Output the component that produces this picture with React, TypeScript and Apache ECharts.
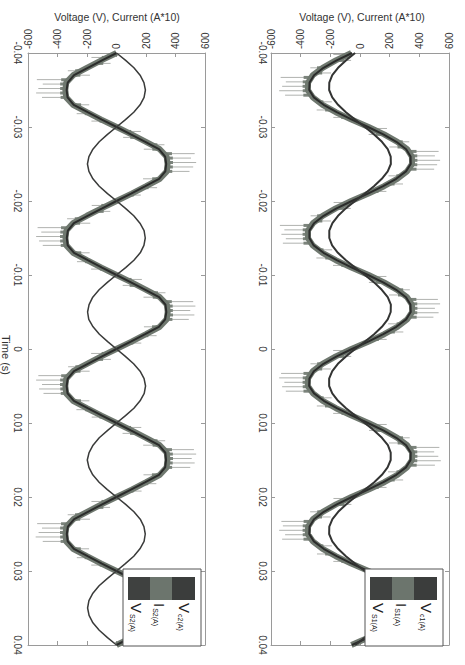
import React, { useEffect, useRef } from "react";
import * as echarts from "echarts";

// sample times in milliseconds
const TIME_MS = [
  -40, -39, -38, -37, -36, -35, -34, -33, -32, -31,
  -30, -29, -28, -27, -26, -25, -24, -23, -22, -21,
  -20, -19, -18, -17, -16, -15, -14, -13, -12, -11,
  -10, -9, -8, -7, -6, -5, -4, -3, -2, -1,
  0, 1, 2, 3, 4, 5, 6, 7, 8, 9,
  10, 11, 12, 13, 14, 15, 16, 17, 18, 19,
  20, 21, 22, 23, 24, 25, 26, 27, 28, 29,
  30, 31, 32, 33, 34, 35, 36, 37, 38, 39,
  40,
];

const VOLT_TICKS = [-600, -400, -200, 0, 200, 400, 600];
const TIME_TICKS = [-0.04, -0.03, -0.02, -0.01, 0, 0.01, 0.02, 0.03, 0.04];

// ---------- left panel (converter 2) ----------
const LEFT_VC2 = [
  0, -98, -195, -288, -331, -338, -332, -290, -196, -99,
  1, 97, 195, 288, 330, 337, 331, 289, 196, 99,
  0, -97, -196, -289, -330, -337, -331, -288, -195, -98,
  0, 98, 196, 289, 332, 338, 330, 287, 194, 97,
  -1, -98, -195, -288, -331, -338, -332, -289, -196, -98,
  0, 97, 195, 288, 331, 336, 330, 288, 196, 98,
  0, -97, -194, -287, -330, -337, -331, -289, -196, -99,
  0, 98, 196, 289, 331, 338, 331, 289, 195, 97,
  0,
];
const LEFT_IS2 = [
  0, 62, 118, 160, 186, 196, 187, 160, 117, 61,
  0, -61, -117, -160, -187, -197, -187, -160, -117, -61,
  1, 61, 117, 159, 187, 195, 186, 161, 118, 62,
  -1, -62, -118, -161, -186, -196, -188, -159, -116, -60,
  0, 60, 116, 160, 187, 197, 188, 160, 118, 61,
  0, -60, -117, -159, -186, -198, -187, -161, -118, -62,
  0, 62, 118, 161, 186, 195, 187, 159, 117, 60,
  0, -61, -118, -160, -187, -196, -186, -160, -117, -61,
  0,
];
const LEFT_VS2 = [
  0, -103, -201, -294, -341, -347, -341, -295, -201, -103,
  1, 102, 200, 293, 340, 346, 341, 294, 201, 103,
  0, -102, -201, -295, -340, -346, -340, -294, -200, -102,
  0, 103, 201, 294, 342, 347, 340, 293, 200, 102,
  -1, -103, -200, -294, -341, -347, -341, -295, -201, -102,
  0, 102, 200, 293, 341, 345, 340, 294, 201, 103,
  0, -102, -199, -293, -340, -346, -341, -295, -201, -103,
  0, 103, 201, 294, 341, 347, 341, 295, 200, 102,
  0,
];
// switching spikes: [time ms, band value, spike end value]
const LEFT_SPIKES = [
  [-39.4, -55, -170], [-38.6, -135, -40], [-37.6, -235, -330], [-37.0, -290, -180], [-36.4, -330, -540], [-35.8, -337, -500], [-35.2, -337, -530], [-34.6, -337, -545], [-34.0, -334, -505], [-33.0, -285, -185], [-31.8, -170, -270], [-30.8, -70, -170],
  [-29.4, 55, 165], [-28.6, 138, 45], [-27.6, 232, 325], [-27.0, 288, 185], [-26.4, 331, 530], [-25.8, 337, 505], [-25.2, 338, 540], [-24.6, 337, 520], [-24.0, 333, 495], [-23.0, 287, 180], [-21.8, 172, 275], [-20.8, 72, 165],
  [-19.4, -58, -168], [-18.6, -132, -42], [-17.6, -238, -335], [-17.0, -292, -178], [-16.4, -331, -535], [-15.8, -336, -510], [-15.2, -338, -545], [-14.6, -337, -525], [-14.0, -333, -500], [-13.0, -284, -182], [-11.8, -168, -268], [-10.8, -68, -172],
  [-9.4, 57, 172], [-8.6, 134, 42], [-7.6, 236, 332], [-7.0, 291, 183], [-6.4, 330, 520], [-5.8, 336, 535], [-5.2, 337, 500], [-4.6, 338, 528], [-4.0, 334, 490], [-3.0, 286, 186], [-1.8, 171, 272], [-0.8, 69, 168],
  [0.6, -56, -172], [1.4, -136, -38], [2.4, -234, -328], [3.0, -289, -182], [3.6, -330, -530], [4.2, -337, -545], [4.8, -338, -505], [5.4, -336, -525], [6.0, -333, -495], [7.0, -286, -184], [8.2, -169, -272], [9.2, -71, -168],
  [10.6, 54, 168], [11.4, 137, 41], [12.4, 233, 330], [13.0, 290, 181], [13.6, 331, 525], [14.2, 337, 540], [14.8, 338, 510], [15.4, 336, 530], [16.0, 332, 500], [17.0, 285, 183], [18.2, 170, 270], [19.2, 70, 170],
  [20.6, -57, -170], [21.4, -134, -44], [22.4, -236, -331], [23.0, -291, -180], [23.6, -331, -538], [24.2, -337, -505], [24.8, -338, -528], [25.4, -337, -548], [26.0, -334, -500], [27.0, -287, -186], [28.2, -171, -269], [29.2, -69, -171],
  [30.6, 56, 170], [31.4, 135, 43], [32.4, 235, 329], [33.0, 289, 184], [33.6, 330, 528], [34.2, 336, 500], [34.8, 337, 535], [35.4, 337, 515], [36.0, 333, 495], [37.0, 286, 185], [38.2, 170, 271], [39.2, 71, 169],
];

// ---------- right panel (converter 1) ----------
const RIGHT_VC1 = [
  -54, -157, -246, -310, -340, -342, -311, -245, -157, -54,
  54, 157, 245, 311, 341, 342, 310, 244, 156, 53,
  -55, -158, -245, -310, -341, -341, -312, -246, -157, -54,
  54, 156, 244, 310, 340, 342, 311, 245, 157, 55,
  -54, -157, -246, -311, -341, -343, -310, -244, -156, -53,
  53, 157, 245, 311, 342, 341, 310, 245, 158, 54,
  -54, -156, -244, -310, -340, -342, -311, -245, -157, -55,
  54, 157, 246, 311, 341, 342, 310, 244, 157, 54,
  -54,
];
const RIGHT_IS1 = [
  -33, -95, -148, -187, -207, -208, -187, -148, -95, -33,
  33, 95, 148, 187, 207, 208, 187, 147, 94, 33,
  -33, -96, -148, -186, -207, -207, -188, -149, -95, -33,
  33, 95, 147, 187, 208, 207, 187, 148, 95, 34,
  -33, -95, -149, -187, -208, -208, -187, -148, -94, -32,
  32, 95, 148, 188, 207, 207, 186, 148, 96, 33,
  -33, -94, -147, -186, -207, -208, -187, -148, -95, -34,
  33, 96, 149, 187, 207, 208, 187, 147, 95, 33,
  -33,
];
const RIGHT_VS1 = [
  -58, -163, -252, -318, -350, -352, -318, -252, -163, -58,
  58, 163, 252, 318, 350, 351, 317, 251, 162, 57,
  -59, -164, -252, -317, -351, -351, -319, -253, -163, -58,
  58, 162, 251, 317, 350, 352, 318, 252, 163, 59,
  -58, -163, -253, -318, -351, -352, -317, -251, -162, -57,
  57, 163, 252, 318, 352, 351, 317, 252, 164, 58,
  -58, -162, -251, -317, -350, -352, -318, -252, -163, -59,
  58, 163, 253, 318, 351, 352, 317, 251, 163, 58,
  -58,
];
const RIGHT_SPIKES = [
  [-39.8, -60, -180], [-39.0, -150, -60], [-38.0, -245, -335], [-37.3, -300, -195], [-36.7, -335, -535], [-36.1, -341, -500], [-35.5, -342, -525], [-34.9, -341, -545], [-34.3, -337, -505], [-33.4, -292, -190], [-32.3, -190, -292], [-31.3, -82, -180],
  [-29.8, 62, 182], [-29.0, 152, 58], [-28.0, 243, 332], [-27.3, 298, 198], [-26.7, 336, 530], [-26.1, 341, 505], [-25.5, 342, 540], [-24.9, 341, 520], [-24.3, 336, 500], [-23.4, 290, 192], [-22.3, 188, 290], [-21.3, 80, 178],
  [-19.8, -61, -178], [-19.0, -148, -62], [-18.0, -244, -333], [-17.3, -299, -196], [-16.7, -336, -540], [-16.1, -341, -510], [-15.5, -342, -530], [-14.9, -340, -500], [-14.3, -336, -520], [-13.4, -291, -188], [-12.3, -189, -294], [-11.3, -81, -182],
  [-9.8, 60, 178], [-9.0, 150, 60], [-8.0, 246, 336], [-7.3, 301, 196], [-6.7, 335, 525], [-6.1, 341, 540], [-5.5, 342, 505], [-4.9, 341, 530], [-4.3, 337, 495], [-3.4, 292, 190], [-2.3, 190, 292], [-1.3, 82, 180],
  [0.2, -59, -181], [1.0, -151, -59], [2.0, -244, -334], [2.7, -300, -197], [3.3, -336, -532], [3.9, -341, -545], [4.5, -342, -510], [5.1, -341, -525], [5.7, -336, -500], [6.6, -290, -191], [7.7, -191, -291], [8.7, -80, -181],
  [10.2, 61, 180], [11.0, 149, 61], [12.0, 245, 335], [12.7, 299, 195], [13.3, 336, 535], [13.9, 341, 500], [14.5, 342, 528], [15.1, 341, 545], [15.7, 337, 505], [16.6, 291, 189], [17.7, 189, 291], [18.7, 81, 179],
  [20.2, -60, -179], [21.0, -152, -58], [22.0, -243, -336], [22.7, -301, -198], [23.3, -335, -530], [23.9, -341, -520], [24.5, -342, -545], [25.1, -341, -505], [25.7, -336, -525], [26.6, -292, -190], [27.7, -190, -290], [28.7, -81, -180],
  [30.2, 60, 181], [31.0, 150, 59], [32.0, 244, 334], [32.7, 300, 197], [33.3, 336, 528], [33.9, 341, 505], [34.5, 342, 535], [35.1, 341, 515], [35.7, 336, 500], [36.6, 290, 190], [37.7, 190, 292], [38.7, 80, 178],
];

const LEFT_LEGEND = [
  { main: "V", sub: "c2(A)" },
  { main: "I", sub: "S2(A)" },
  { main: "V", sub: "S2(A)" },
];
const RIGHT_LEGEND = [
  { main: "V", sub: "c1(A)" },
  { main: "I", sub: "S1(A)" },
  { main: "V", sub: "S1(A)" },
];
const AXIS_TITLE = "Voltage (V), Current (A*10)";
const TIME_TITLE = "Time (s)";

const FONT = "'Liberation Sans', Arial, sans-serif";
const DARK = "#2b2c2b";
const BAND = "#6f786f";
const SPIKE = "#b0b2af";
const FRAME = "#9a9a9a";

function pairs(vals: number[]) {
  return vals.map((v, i) => [v, TIME_MS[i] / 1000]);
}

function spikeData(sp: number[][]) {
  return sp.map((s) => [s[0] / 1000, s[1], s[2]]);
}

const App: React.FC = () => {
  const ref = useRef<HTMLDivElement>(null);

  useEffect(() => {
    if (!ref.current) return;
    const chart = echarts.init(ref.current, null, { renderer: "svg" });

    const grids = [
      { left: 28, top: 53, width: 177, height: 592 },
      { left: 271, top: 53, width: 178, height: 592 },
    ];

    const xAxes: any[] = [];
    const yAxes: any[] = [];
    grids.forEach((_, g) => {
      const common = {
        type: "value",
        gridIndex: g,
        min: VOLT_TICKS[0],
        max: VOLT_TICKS[VOLT_TICKS.length - 1],
        interval: 200,
        splitLine: { show: false },
        axisLine: { show: true, onZero: false, lineStyle: { color: FRAME, width: 1 } },
        axisTick: { show: true, inside: true, length: 4, lineStyle: { color: FRAME } },
      };
      xAxes.push({
        ...common,
        position: "top",
        axisLabel: {
          show: true,
          rotate: -90,
          margin: 4,
          fontSize: 10,
          color: "#333",
          fontFamily: FONT,
          formatter: (v: number) => String(v),
        },
      });
      xAxes.push({ ...common, position: "bottom", axisLabel: { show: false } });
      const tcommon = {
        type: "value",
        gridIndex: g,
        min: TIME_TICKS[0],
        max: TIME_TICKS[TIME_TICKS.length - 1],
        interval: 0.01,
        inverse: true,
        splitLine: { show: false },
        axisLine: { show: true, onZero: false, lineStyle: { color: FRAME, width: 1 } },
        axisTick: { show: true, inside: true, length: 4, lineStyle: { color: FRAME } },
      };
      yAxes.push({
        ...tcommon,
        position: "left",
        axisLabel: {
          show: true,
          rotate: -90,
          margin: g === 0 ? 6 : 4,
          fontSize: 10,
          color: "#333",
          fontFamily: FONT,
          formatter: (v: number) => {
            const r = Math.round(v * 100) / 100;
            return r === 0 ? "0" : String(r);
          },
        },
      });
      yAxes.push({ ...tcommon, position: "right", axisLabel: { show: false } });
    });

    const spikeSeries = (data: number[][], xi: number, yi: number) => ({
      type: "custom",
      xAxisIndex: xi,
      yAxisIndex: yi,
      z: 1,
      encode: { x: [1, 2], y: 0 },
      data,
      renderItem: (_p: any, api: any) => {
        const t = api.value(0);
        const a = api.value(1);
        const b = api.value(2);
        const p1 = api.coord([a, t]);
        const p2 = api.coord([b, t]);
        const dir = b > a ? 1 : -1;
        const pb = api.coord([a + dir * 45, t]);
        return {
          type: "group",
          children: [
            {
              type: "line",
              shape: { x1: p1[0], y1: p1[1], x2: p2[0], y2: p2[1] },
              style: { stroke: SPIKE, lineWidth: 1 },
            },
            {
              type: "rect",
              shape: {
                x: Math.min(p1[0], pb[0]),
                y: p1[1] - 1.5,
                width: Math.abs(pb[0] - p1[0]),
                height: 3,
              },
              style: { fill: "#7c847c" },
            },
          ],
        };
      },
    });

    const lineSeries = (vals: number[], xi: number, yi: number, color: string, width: number, z: number) => ({
      type: "line",
      xAxisIndex: xi,
      yAxisIndex: yi,
      data: pairs(vals),
      symbol: "none",
      showSymbol: false,
      z,
      lineStyle: { color, width },
    });

    const series: any[] = [
      spikeSeries(spikeData(LEFT_SPIKES), 0, 0),
      lineSeries(LEFT_VS2, 0, 0, BAND, 6, 2),
      lineSeries(LEFT_VC2, 0, 0, DARK, 2, 3),
      lineSeries(LEFT_IS2, 0, 0, "#3a3b3a", 1.5, 3),
      spikeSeries(spikeData(RIGHT_SPIKES), 2, 2),
      lineSeries(RIGHT_VS1, 2, 2, BAND, 6, 2),
      lineSeries(RIGHT_VC1, 2, 2, DARK, 2, 3),
      lineSeries(RIGHT_IS1, 2, 2, "#333433", 2, 3),
    ];

    const Z = 100;
    const legendGraphic = (boxX: number, entries: { main: string; sub: string }[]) => {
      const els: any[] = [
        {
          type: "rect",
          z: Z,
          shape: { x: boxX, y: 569, width: 78, height: 77 },
          style: { fill: "#fff", stroke: "#555", lineWidth: 1 },
        },
        { type: "rect", z: Z + 1, shape: { x: boxX + 5, y: 577, width: 22, height: 23 }, style: { fill: "#3f4140" } },
        { type: "rect", z: Z + 1, shape: { x: boxX + 27, y: 577, width: 22, height: 23 }, style: { fill: "#6c756d" } },
        { type: "rect", z: Z + 1, shape: { x: boxX + 49, y: 577, width: 23, height: 23 }, style: { fill: "#3b3d3c" } },
      ];
      const xs = [boxX + 61, boxX + 36, boxX + 13];
      entries.forEach((e, i) => {
        els.push({
          type: "text",
          z: Z + 2,
          x: xs[i],
          y: 603,
          rotation: -Math.PI / 2,
          style: {
            text: `{m|${e.main}}{s|${e.sub}}`,
            textAlign: "left",
            textVerticalAlign: "middle",
            fill: "#222",
            rich: {
              m: { fontSize: 15, fontFamily: FONT, fill: "#222", verticalAlign: "bottom" },
              s: { fontSize: 7, fontFamily: FONT, fill: "#222", verticalAlign: "bottom", padding: [0, 0, 0, 1] },
            },
          },
        });
      });
      return els;
    };

    chart.setOption({
      animation: false,
      backgroundColor: "#fff",
      grid: grids,
      xAxis: xAxes,
      yAxis: yAxes,
      series,
      graphic: [
        {
          type: "text",
          x: 117,
          y: 17,
          style: { text: AXIS_TITLE, textAlign: "center", textVerticalAlign: "middle", fontSize: 10.5, fontFamily: FONT, fill: "#333" },
        },
        {
          type: "text",
          x: 362,
          y: 17,
          style: { text: AXIS_TITLE, textAlign: "center", textVerticalAlign: "middle", fontSize: 10.5, fontFamily: FONT, fill: "#333" },
        },
        {
          type: "text",
          x: 6,
          y: 355,
          rotation: -Math.PI / 2,
          style: { text: TIME_TITLE, textAlign: "center", textVerticalAlign: "middle", fontSize: 11, fontFamily: FONT, fill: "#333" },
        },
        ...legendGraphic(123, LEFT_LEGEND),
        ...legendGraphic(365, RIGHT_LEGEND),
      ],
    });

    return () => chart.dispose();
  }, []);

  return (
    <div style={{ position: "fixed", left: 0, top: 0, width: 465, height: 665, background: "#fff" }}>
      <div ref={ref} style={{ width: 465, height: 665 }} />
    </div>
  );
};

export default App;
